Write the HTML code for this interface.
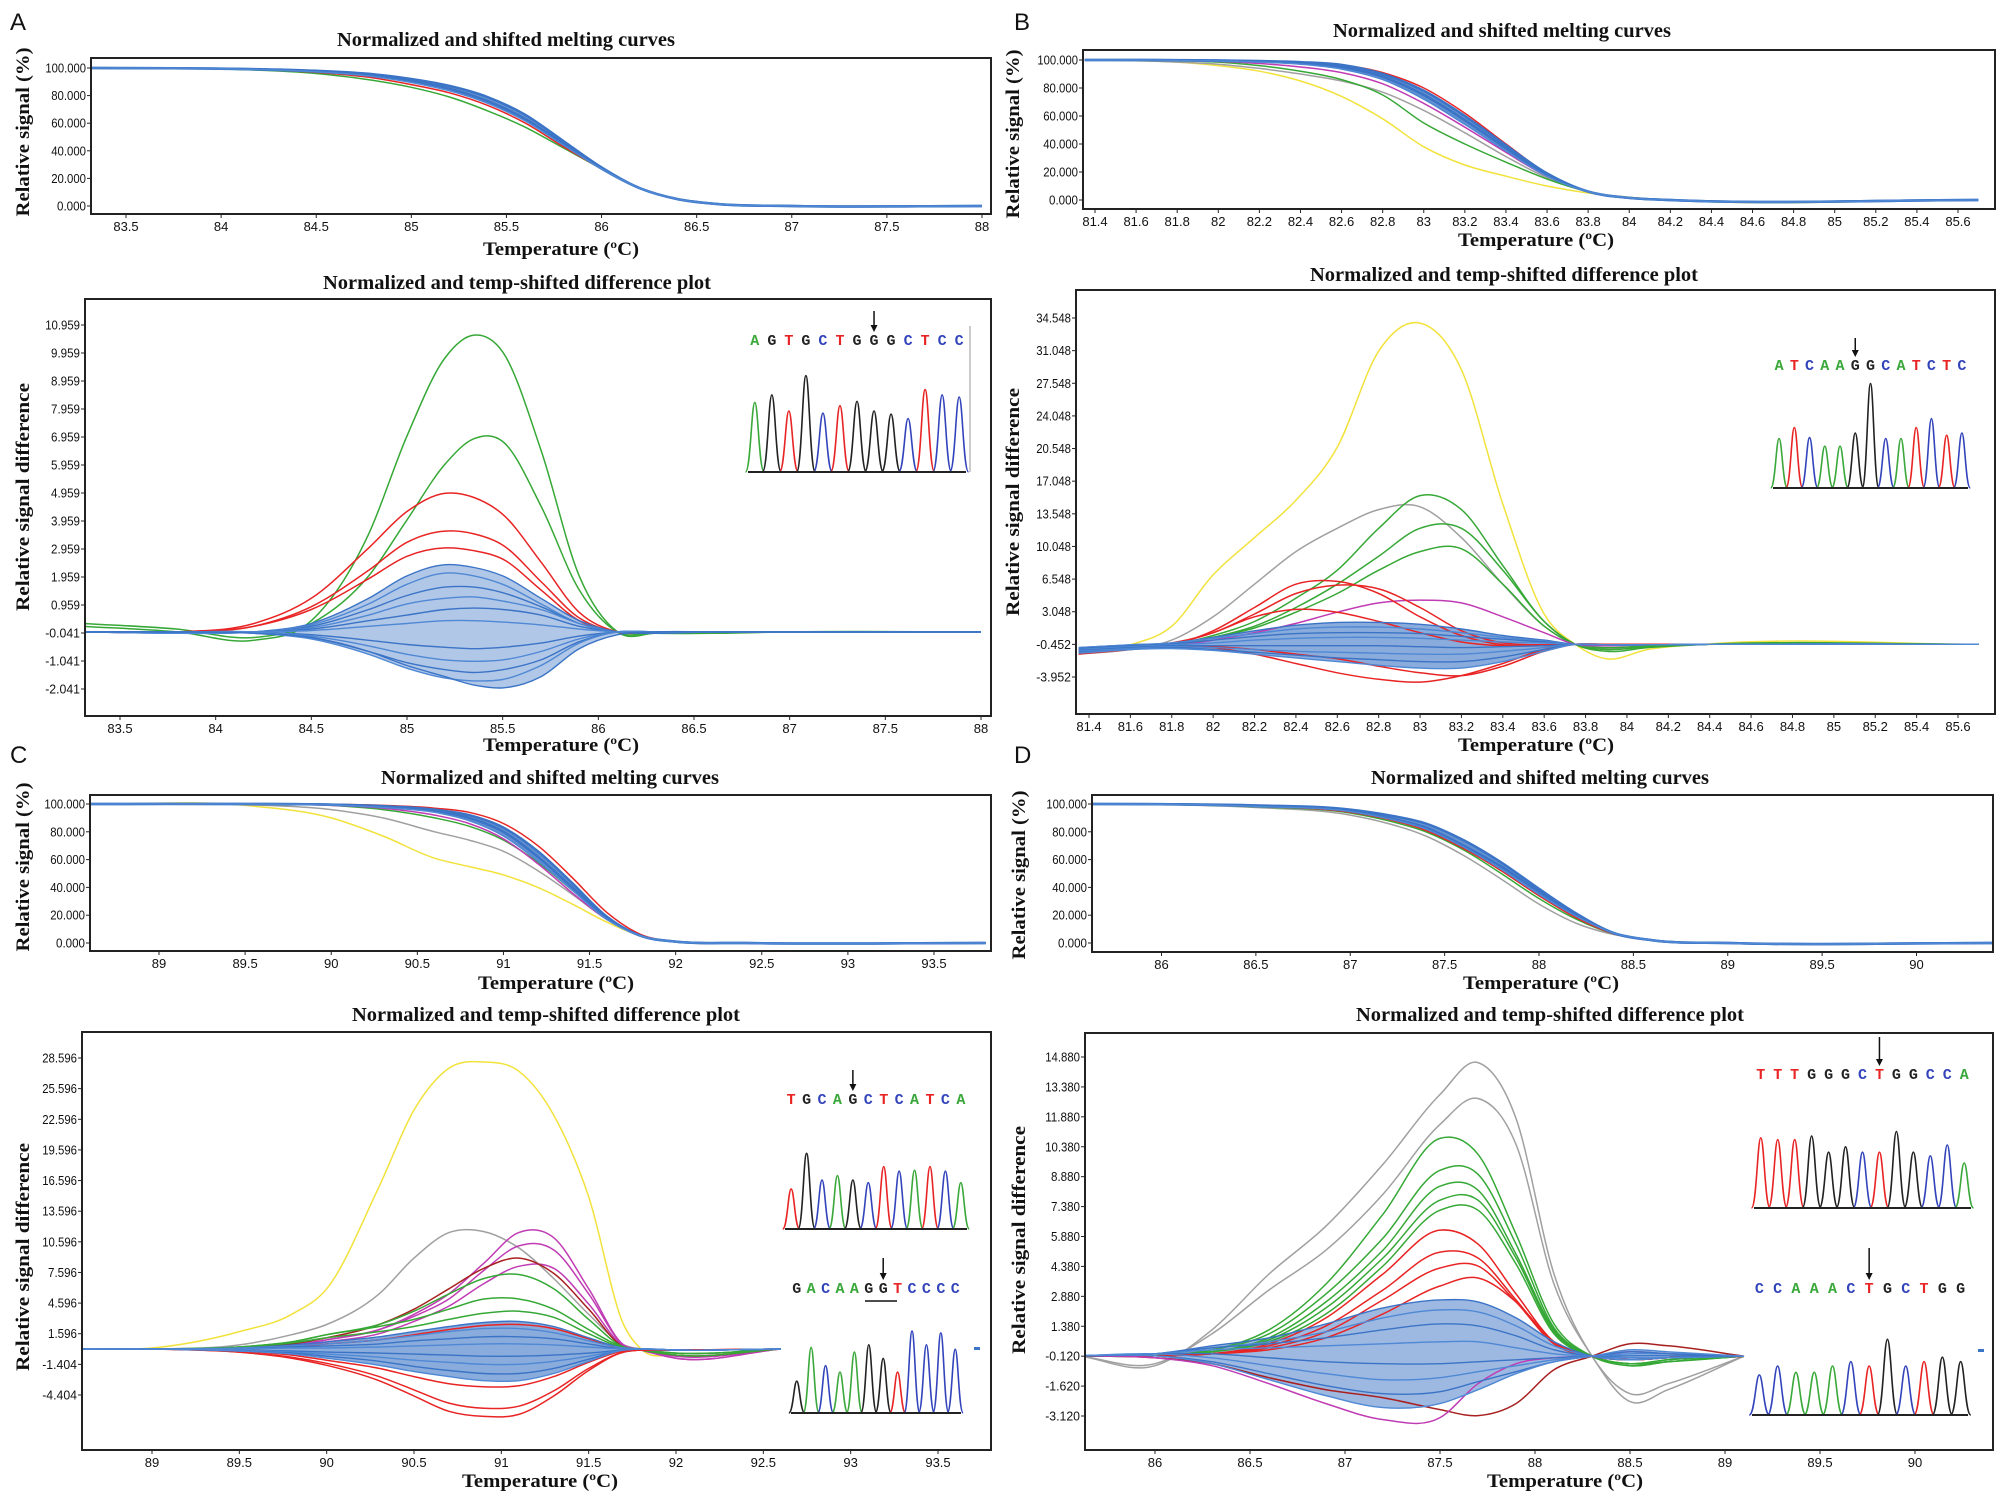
<!DOCTYPE html>
<html><head><meta charset="utf-8">
<style>
html,body{margin:0;padding:0;background:#fff;}
svg{display:block;}
.ttl{font-family:"Liberation Serif",serif;font-weight:bold;font-size:20px;fill:#111;}
.axl{font-family:"Liberation Serif",serif;font-weight:bold;font-size:19px;fill:#111;}
.tick{font-family:"Liberation Sans",sans-serif;font-size:13px;fill:#111;}
.plet{font-family:"Liberation Sans",sans-serif;font-size:24px;fill:#111;}
.base{font-family:"Liberation Mono",monospace;font-weight:bold;font-size:15px;}
</style></head>
<body>
<svg id="fig" width="2008" height="1501" viewBox="0 0 2008 1501" xmlns="http://www.w3.org/2000/svg">
<text class="plet" x="10" y="30">A</text>
<text class="plet" x="1014" y="30">B</text>
<text class="plet" x="10" y="763">C</text>
<text class="plet" x="1014" y="763">D</text>
</svg>
<script>
// ---------- DATA ----------
const aMeltTicksX=[83.5,84,84.5,85,85.5,86,86.5,87,87.5,88];
const aMeltTickLabels=["83.5","84","84.5","85","85.5","86","86.5","87","87.5","88"];
const meltTicksY=[0,20,40,60,80,100];
const meltTickLabelsY=["0.000","20.000","40.000","60.000","80.000","100.000"];
const aMeltTemps=[83.3,84,84.5,84.8,85,85.2,85.4,85.6,85.8,86,86.2,86.4,86.6,87,88];
const aMeltBlue1=[100,99.6,98,95.5,92,87,79,66,47,28,13,5,1.5,0,0];
const aMeltBlue2=[100,99.5,97.5,94.5,90.5,85,76,63,45,27,13,5,1.5,0,0];
const aMeltBlue3=[100,99.5,97.2,93.8,89.5,83.5,74.5,61.5,44,27,13,5,1.5,0,0];
const aMeltRed=[100,99.4,96.8,92.8,88,82,73,60,43,27,13,5,1.5,0,0];
const aMeltGreen=[100,99.3,96,91,86,79,69,57,42,27,13,5,1.5,0,0];

const aDiffTicksY=[10.959,9.959,8.959,7.959,6.959,5.959,4.959,3.959,2.959,1.959,0.959,-0.041,-1.041,-2.041];
const aDiffTickLabels=["10.959","9.959","8.959","7.959","6.959","5.959","4.959","3.959","2.959","1.959","0.959","-0.041","-1.041","-2.041"];
const aDiffTemps=[83.3,83.8,84.2,84.5,84.8,85.0,85.2,85.35,85.5,85.7,85.9,86.1,86.3,86.6,87,88];
const aDiffGreen1=[0.2,0,-0.3,0.4,3.5,7,9.8,10.6,10,6.5,2,0,-0.05,-0.05,0,0];
const aDiffGreen2=[0.3,0.1,-0.2,0.3,2,4,6,6.9,6.8,4.5,1.5,0,0,0,0,0];
const aDiffRed1=[0,0,0.3,1.2,3,4.3,4.95,4.8,4.2,2.5,0.7,0,0,0,0,0];
const aDiffRed2=[0,0,0.2,0.9,2.2,3.2,3.6,3.5,3.1,1.8,0.5,0,0,0,0,0];
const aDiffRed3=[0,0,0.2,0.8,1.9,2.7,3.0,2.9,2.6,1.5,0.4,0,0,0,0,0];
const aDiffBlue1=[0,-0.05,0,0.3,1.2,2,2.4,2.3,2,1.2,0.4,0,-0.05,0,0,0];
const aDiffBlue2=[0,-0.05,0,0.25,1,1.7,2.1,2.0,1.7,1.0,0.3,0,0,0,0,0];
const aDiffBlue3=[0,0,0,0.2,0.8,1.3,1.6,1.6,1.4,0.9,0.3,0,0,0,0,0];
const aDiffBlue4=[0,0,0,0.15,0.6,1.0,1.2,1.25,1.1,0.8,0.3,0,0,0,0,0];
const aDiffBlue5=[0,0,0,0.1,0.4,0.6,0.8,0.85,0.8,0.6,0.2,0,0,0,0,0];
const aDiffBlue6=[0,0,0,0.05,0.2,0.3,0.4,0.4,0.35,0.25,0.1,0,0,0,0,0];
const aDiffBlue7=[0,0,0,-0.1,-0.3,-0.45,-0.55,-0.6,-0.55,-0.4,-0.15,0,0,0,0,0];
const aDiffBlue8=[0,0,0,-0.15,-0.5,-0.8,-1,-1.05,-1,-0.7,-0.25,0,0,0,0,0];
const aDiffBlue9=[0,0,-0.05,-0.2,-0.7,-1.1,-1.35,-1.45,-1.35,-1,-0.35,0,0,0,0,0];
const aDiffBlue10=[0,0,-0.05,-0.25,-0.8,-1.3,-1.65,-1.75,-1.7,-1.2,-0.4,0,0,0,0,0];
const aDiffBlue11=[0,0,-0.05,-0.2,-0.7,-1.2,-1.6,-1.9,-2.0,-1.6,-0.6,-0.1,0,0,0,0];

const bTicksX=[81.4,81.6,81.8,82,82.2,82.4,82.6,82.8,83,83.2,83.4,83.6,83.8,84,84.2,84.4,84.6,84.8,85,85.2,85.4,85.6];
const bTickLabels=["81.4","81.6","81.8","82","82.2","82.4","82.6","82.8","83","83.2","83.4","83.6","83.8","84","84.2","84.4","84.6","84.8","85","85.2","85.4","85.6"];
const bMeltTemps=[81.35,81.6,81.8,82,82.2,82.4,82.6,82.8,83,83.2,83.4,83.6,83.8,84,84.2,85.7];
const bMeltBlue1=[100,100,99.9,99.7,99.3,98.5,96.5,90,78,60,39,19,6,1.5,0,0];
const bMeltBlue2=[100,100,99.8,99.5,99,98,95,88,75,57,37,18,6,1.5,0,0];
const bMeltBlue3=[100,100,99.7,99.3,98.5,97,93.5,86,72,54,35,17,6,1.5,0,0];
const bMeltRed=[100,100,99.9,99.6,99.2,98.3,96.5,91,80,62,40,19,6,1.5,0,0];
const bMeltMagenta=[100,100,99.6,99,97.5,95,91,83,69,52,34,17,6,1.5,0,0];
const bMeltGreen=[100,99.8,99.5,98.5,96,92,86,75,55,40,27,15,6,1.5,0,0];
const bMeltGrey=[100,99.5,98.5,97,94,90,85,77,64,48,31,16,6,1.5,0,0];
const bMeltYellow=[100,99.5,98.5,96,92,85,74,58,38,25,17,10,5,2,0,0];

const bDiffTicksY=[34.548,31.048,27.548,24.048,20.548,17.048,13.548,10.048,6.548,3.048,-0.452,-3.952];
const bDiffTickLabels=["34.548","31.048","27.548","24.048","20.548","17.048","13.548","10.048","6.548","3.048","-0.452","-3.952"];
const bDiffTemps=[81.35,81.6,81.8,82,82.2,82.4,82.6,82.8,83,83.2,83.4,83.6,83.75,83.9,84.1,84.4,85.7];
const bDiffYellow=[-1.5,-0.5,1.5,7,11,15,20.7,31,34,29,14.6,2.8,-0.45,-2,-1,-0.4,-0.45];
const bDiffGrey=[-1.5,-1,0,2.5,6,9.5,12,14,14.3,11,6,1.5,-0.45,-0.9,-0.6,-0.45,-0.45];
const bDiffGreen1=[-1,-0.8,-0.5,0.5,2,4.5,7.5,12,15.5,14,8,2,-0.45,-1.2,-0.8,-0.45,-0.45];
const bDiffGreen2=[-1,-0.8,-0.5,0.3,1.5,3.5,6,9,12,12,7.5,2,-0.45,-1,-0.7,-0.45,-0.45];
const bDiffGreen3=[-1,-0.8,-0.5,0.3,1.3,3,5,7.5,9.5,9.8,6,1.5,-0.45,-0.8,-0.6,-0.45,-0.45];
const bDiffMagenta=[-1,-0.8,-0.6,0,0.8,1.8,3,4,4.3,4,2.5,0.8,-0.45,-0.6,-0.5,-0.45,-0.45];
const bDiffRed1=[-1.5,-1,-0.5,1,3.5,6,6.3,5,2.5,0.5,-0.5,-0.6,-0.45,-0.45,-0.45,-0.45,-0.45];
const bDiffRed2=[-1.2,-0.8,-0.3,0.8,2.8,5,5.9,5.5,3.5,1,-0.3,-0.5,-0.45,-0.45,-0.45,-0.45,-0.45];
const bDiffRed3=[-1,-0.8,-0.4,0.8,2.5,3.3,3,2,0.8,-0.2,-0.6,-0.5,-0.45,-0.45,-0.45,-0.45,-0.45];
const bDiffRed4=[-1,-0.8,-0.6,-0.8,-1.5,-2.5,-3.5,-4.2,-4.5,-3.8,-2.5,-1,-0.45,-0.45,-0.45,-0.45,-0.45];
const bDiffRed5=[-1,-0.8,-0.6,-0.7,-1,-1.5,-2,-2.8,-3.5,-3.8,-2.8,-1.2,-0.45,-0.45,-0.45,-0.45,-0.45];
const bDiffBlue1=[-0.8,-0.5,-0.3,0.3,1,1.6,1.9,1.9,1.7,1.2,0.5,0,-0.45,-0.5,-0.5,-0.45,-0.45];
const bDiffBlue2=[-0.8,-0.5,-0.3,0.2,0.7,1.2,1.4,1.4,1.2,0.8,0.3,-0.1,-0.45,-0.5,-0.5,-0.45,-0.45];
const bDiffBlue3=[-0.9,-0.6,-0.4,0,0.4,0.7,0.8,0.8,0.7,0.4,0.1,-0.2,-0.45,-0.5,-0.5,-0.45,-0.45];
const bDiffBlue4=[-1,-0.7,-0.5,-0.3,0,0.2,0.3,0.3,0.2,0,-0.2,-0.3,-0.45,-0.5,-0.5,-0.45,-0.45];
const bDiffBlue5=[-1.1,-0.8,-0.6,-0.6,-0.6,-0.6,-0.6,-0.6,-0.7,-0.8,-0.7,-0.6,-0.45,-0.5,-0.5,-0.45,-0.45];
const bDiffBlue6=[-1.2,-0.9,-0.7,-0.8,-1,-1.2,-1.3,-1.4,-1.5,-1.5,-1.2,-0.8,-0.45,-0.5,-0.5,-0.45,-0.45];
const bDiffBlue7=[-1.3,-1,-0.8,-1,-1.3,-1.6,-1.9,-2.1,-2.3,-2.3,-1.8,-1,-0.45,-0.5,-0.5,-0.45,-0.45];
const bDiffBlue8=[-1.4,-1,-0.9,-1.1,-1.5,-1.9,-2.3,-2.7,-3,-3,-2.3,-1.2,-0.45,-0.5,-0.5,-0.45,-0.45];

const cMeltTicksX=[89,89.5,90,90.5,91,91.5,92,92.5,93,93.5];
const cMeltTickLabels=["89","89.5","90","90.5","91","91.5","92","92.5","93","93.5"];
const cMeltTemps=[88.6,89.5,90,90.3,90.6,90.8,91,91.2,91.4,91.6,91.8,92,92.4,93.8];
const cMeltBlue1=[100,100,99.6,98.5,96,92,83,66,43,19,5,1,0,0];
const cMeltBlue2=[100,100,99.5,98,95,90,80,62,40,18,5,1,0,0];
const cMeltBlue3=[100,100,99.3,97.5,94,88,77,59,38,17,5,1,0,0];
const cMeltRed=[100,100,99.8,99,97,94,86,70,47,22,6,1,0,0];
const cMeltGreen=[100,100,99,96,90,84,74,58,38,18,5,1,0,0];
const cMeltMagenta=[100,100,99,97,92,86,75,57,36,17,5,1,0,0];
const cMeltGrey=[100,99.5,96,90,80,74,66,52,35,17,5,1,0,0];
const cMeltYellow=[100,99,90,77,61,55,49,40,28,15,5,1,0,0];

const cDiffTicksY=[28.596,25.596,22.596,19.596,16.596,13.596,10.596,7.596,4.596,1.596,-1.404,-4.404];
const cDiffTickLabels=["28.596","25.596","22.596","19.596","16.596","13.596","10.596","7.596","4.596","1.596","-1.404","-4.404"];
const cDiffTemps=[88.6,89,89.5,89.8,90,90.3,90.5,90.7,90.9,91.1,91.3,91.5,91.7,91.8,92,92.6];
const cDiffYellow=[0.1,0.2,1.8,3.5,6,16,23.5,27.6,28.2,27.3,23,15,2.5,0.1,-0.5,0.1];
const cDiffGrey=[0.1,0.1,0.5,1.5,2.5,5.5,9,11.5,11.6,10,7,3.5,0.5,0.1,-0.3,0.1];
const cDiffMagenta1=[0.1,0.1,0.2,0.5,1,2,3.5,5.5,8.5,11.5,11,6,0.5,0,-0.8,0.1];
const cDiffMagenta2=[0.1,0.1,0.2,0.5,1,2,3.3,5,7.8,10.2,9.8,5.5,0.5,0,-0.8,0.1];
const cDiffMagenta3=[0.1,0.1,0.2,0.4,0.8,1.6,2.8,4.3,6.5,8.2,8,4.5,0.4,0,-0.6,0.1];
const cDiffDarkRed=[0.1,0.1,0.2,0.6,1.2,2.5,4,6,8,9,7.5,4,0.3,0,-0.5,0.1];
const cDiffGreen1=[0.1,0.1,0.3,0.8,1.5,2.5,3.8,5.5,7,7.4,6,3,0.3,0,-0.5,0.1];
const cDiffGreen2=[0.1,0.1,0.3,0.8,1.5,2.3,3,4,5,5,4,2,0.3,0,-0.3,0.1];
const cDiffGreen3=[0.1,0.1,0.3,0.7,1.2,1.8,2.3,3,3.6,3.8,3.2,1.6,0.2,0,-0.3,0.1];
const cDiffRed1=[0.1,0.1,-0.2,-0.8,-1.5,-3,-4.5,-6,-6.5,-6.3,-4.5,-2,-0.2,0,0,0.1];
const cDiffRed2=[0.1,0.1,-0.2,-0.7,-1.3,-2.6,-3.9,-5.2,-5.7,-5.5,-4,-1.8,-0.2,0,0,0.1];
const cDiffRed3=[0.1,0.1,-0.1,-0.5,-1,-1.8,-2.6,-3.3,-3.6,-3.5,-2.6,-1.2,-0.1,0,0,0.1];
const cDiffRed4=[0.1,0.1,0.1,0.3,0.6,1,1.5,2,2.4,2.5,2.1,1.1,0.1,0,0,0.1];
const cDiffBlue1=[0.1,0.1,0.2,0.5,0.8,1.3,1.8,2.3,2.7,2.8,2.3,1.2,0.2,0.1,0,0.1];
const cDiffBlue2=[0.1,0.1,0.2,0.4,0.6,1,1.4,1.8,2.1,2.1,1.7,0.9,0.2,0.1,0,0.1];
const cDiffBlue3=[0.1,0.1,0.1,0.3,0.4,0.6,0.9,1.1,1.3,1.3,1.1,0.6,0.1,0.1,0,0.1];
const cDiffBlue4=[0.1,0.1,0.1,0.2,0.2,0.3,0.4,0.5,0.6,0.6,0.5,0.3,0.1,0.1,0,0.1];
const cDiffBlue5=[0.1,0.1,0,-0.1,-0.2,-0.3,-0.4,-0.5,-0.6,-0.6,-0.5,-0.3,0,0.1,0,0.1];
const cDiffBlue6=[0.1,0.1,0,-0.2,-0.4,-0.7,-1,-1.2,-1.4,-1.4,-1.1,-0.6,0,0.1,0,0.1];
const cDiffBlue7=[0.1,0.1,-0.1,-0.3,-0.6,-1.1,-1.6,-2,-2.3,-2.3,-1.8,-0.9,0,0.1,0,0.1];
const cDiffBlue8=[0.1,0.1,-0.1,-0.4,-0.8,-1.5,-2.1,-2.6,-3,-3,-2.3,-1.1,0,0.1,0,0.1];

const dMeltTicksX=[86,86.5,87,87.5,88,88.5,89,89.5,90];
const dMeltTickLabels=["86","86.5","87","87.5","88","88.5","89","89.5","90"];
const dMeltTemps=[85.6,86,86.5,87,87.2,87.4,87.6,87.8,88,88.2,88.4,88.6,89,90.4];
const dMeltBlue1=[100,99.9,99,96,92,86,74,58,39,21,7,2,0,0];
const dMeltBlue2=[100,99.8,98.5,95,90,83,70,55,37,20,7,2,0,0];
const dMeltBlue3=[100,99.8,98.3,94.5,89.5,82,69,53,35,19,7,2,0,0];
const dMeltRed=[100,99.7,98.3,94,89,81,68,52,34,18,6.5,2,0,0];
const dMeltGreen=[100,99.7,98,93.5,88,80,67,50,32,17,6.5,2,0,0];
const dMeltGrey=[100,99.5,97.5,92,86,77,63,46,28,14,6,2,0,0];

const dDiffTicksY=[14.880,13.380,11.880,10.380,8.880,7.380,5.880,4.380,2.880,1.380,-0.120,-1.620,-3.120];
const dDiffTickLabels=["14.880","13.380","11.880","10.380","8.880","7.380","5.880","4.380","2.880","1.380","-0.120","-1.620","-3.120"];
const dDiffTemps=[85.6,86,86.3,86.6,86.9,87.2,87.5,87.7,87.9,88.1,88.3,88.5,88.7,89.1];
const dDiffGrey1=[-0.1,-0.6,1.2,4,6.4,9.5,13,14.6,11.8,4,-0.12,-2,-1.5,-0.12];
const dDiffGrey2=[-0.1,-0.5,1,3.2,5.2,8,11.5,12.8,10.5,3.5,-0.12,-2.4,-1.8,-0.12];
const dDiffGreen1=[-0.1,-0.1,0.2,1.2,3.5,7,10.8,10,6,1.5,-0.12,-0.6,-0.4,-0.12];
const dDiffGreen2=[-0.1,-0.1,0.2,1,3,5.8,9.2,9,5.5,1.3,-0.12,-0.6,-0.4,-0.12];
const dDiffGreen3=[-0.1,-0.1,0.1,0.8,2.6,5.2,8.4,8.2,5,1.2,-0.12,-0.5,-0.4,-0.12];
const dDiffGreen4=[-0.1,-0.1,0.1,0.7,2.3,4.8,7.7,7.7,4.8,1.1,-0.12,-0.5,-0.3,-0.12];
const dDiffGreen5=[-0.1,-0.1,0.1,0.6,2,4.4,7.2,7.2,4.5,1,-0.12,-0.5,-0.3,-0.12];
const dDiffRed1=[-0.1,-0.1,0,0.5,1.8,4,6.2,5.5,3,0.6,-0.12,-0.3,-0.2,-0.12];
const dDiffRed2=[-0.1,-0.1,0,0.4,1.4,3.2,5.1,4.8,2.7,0.5,-0.12,-0.3,-0.2,-0.12];
const dDiffRed3=[-0.1,-0.1,0,0.3,1.1,2.7,4.3,4.4,2.6,0.5,-0.12,-0.3,-0.2,-0.12];
const dDiffRed4=[-0.1,-0.1,0,0.2,0.8,2,3.4,3.8,2.6,0.6,-0.12,-0.3,-0.2,-0.12];
const dDiffDarkRed=[-0.1,-0.2,-0.5,-1.2,-1.8,-2.2,-2.8,-3.1,-2.5,-0.8,-0.12,0.5,0.4,-0.12];
const dDiffMagenta=[-0.1,-0.2,-0.6,-1.5,-2.5,-3.3,-3.2,-1.5,-0.5,-0.2,-0.12,0.1,0,-0.12];
const dDiffBlue1=[-0.1,0,0.4,0.8,1.5,2.3,2.7,2.6,1.8,0.6,-0.12,-0.3,-0.2,-0.12];
const dDiffBlue2=[-0.1,0,0.3,0.6,1.1,1.8,2.2,2.1,1.4,0.4,-0.12,-0.3,-0.2,-0.12];
const dDiffBlue3=[-0.1,0,0.3,0.5,0.8,1.2,1.5,1.4,0.9,0.2,-0.12,-0.2,-0.2,-0.12];
const dDiffBlue4=[-0.1,0,0.2,0.3,0.4,0.5,0.6,0.6,0.3,0,-0.12,-0.2,-0.2,-0.12];
const dDiffBlue5=[-0.1,0,0,-0.2,-0.4,-0.5,-0.5,-0.4,-0.3,-0.2,-0.12,-0.1,-0.1,-0.12];
const dDiffBlue6=[-0.1,0,-0.2,-0.6,-1,-1.3,-1.2,-0.9,-0.6,-0.3,-0.12,0,0,-0.12];
const dDiffBlue7=[-0.1,-0.1,-0.4,-1,-1.6,-2,-1.9,-1.4,-0.9,-0.4,-0.12,0.1,0,-0.12];
const dDiffBlue8=[-0.1,-0.1,-0.5,-1.3,-2.1,-2.7,-2.5,-1.8,-1,-0.4,-0.12,0.2,0.1,-0.12];

// inset chromatogram data
const insetABases="AGTGCTGGGCTCC";
const insetAHeights=[0.65,0.72,0.57,0.9,0.55,0.62,0.66,0.57,0.54,0.5,0.77,0.72,0.7];
const insetBBases="ATCAAGGCATCTC";
const insetBHeights=[0.45,0.55,0.46,0.38,0.38,0.5,0.95,0.45,0.45,0.55,0.63,0.48,0.5];
const insetC1Bases="TGCAGCTCATCA";
const insetC1Heights=[0.45,0.85,0.55,0.6,0.55,0.52,0.7,0.65,0.66,0.7,0.65,0.52];
const insetC2Bases="GACAAGGTCCCC";
const insetC2Heights=[0.35,0.72,0.52,0.45,0.67,0.75,0.6,0.45,0.9,0.75,0.88,0.7];
const insetD1Bases="TTTGGGCTGGCCA";
const insetD1Heights=[0.78,0.76,0.76,0.8,0.62,0.68,0.62,0.62,0.85,0.62,0.58,0.7,0.5];
const insetD2Bases="CCAAACTGCTGG";
const insetD2Heights=[0.45,0.55,0.48,0.48,0.55,0.6,0.55,0.85,0.55,0.6,0.65,0.6];

// ---------- RENDER ----------
const NS="http://www.w3.org/2000/svg";
const fig=document.getElementById('fig');
const COL={blue:"#3b74c6",blue2:"#4f88d4",green:"#36a836",red:"#e82424",grey:"#a0a0a0",yellow:"#f2e23c",magenta:"#c03cb4",darkred:"#a82020"};
const BASECOL={A:"#3aa83a",C:"#3344bb",G:"#222222",T:"#e82424"};
let clipId=0;
function mk(tag,attrs,parent){const e=document.createElementNS(NS,tag);for(const k in attrs)e.setAttribute(k,attrs[k]);(parent||fig).appendChild(e);return e;}
function linScale(d0,r0,d1,r1){return v=>r0+(v-d0)*(r1-r0)/(d1-d0);}
// cubic Hermite in x with non-uniform spacing
function smoothPath(pts){
  const n=pts.length,m=[];
  for(let i=0;i<n;i++){
    if(i===0)m.push((pts[1][1]-pts[0][1])/(pts[1][0]-pts[0][0]));
    else if(i===n-1)m.push((pts[n-1][1]-pts[n-2][1])/(pts[n-1][0]-pts[n-2][0]));
    else{
      const s0=(pts[i][1]-pts[i-1][1])/(pts[i][0]-pts[i-1][0]);
      const s1=(pts[i+1][1]-pts[i][1])/(pts[i+1][0]-pts[i][0]);
      const h0=pts[i][0]-pts[i-1][0],h1=pts[i+1][0]-pts[i][0];
      m.push((s0*h1+s1*h0)/(h0+h1));
    }
  }
  let d="M"+pts[0][0].toFixed(1)+","+pts[0][1].toFixed(1);
  for(let i=0;i<n-1;i++){
    const h=(pts[i+1][0]-pts[i][0])/3;
    d+=" C"+(pts[i][0]+h).toFixed(1)+","+(pts[i][1]+m[i]*h).toFixed(1)+" "+(pts[i+1][0]-h).toFixed(1)+","+(pts[i+1][1]-m[i+1]*h).toFixed(1)+" "+pts[i+1][0].toFixed(1)+","+pts[i+1][1].toFixed(1);
  }
  return d;
}
function txt(cls,x,y,s,anchor,len,parent){
  const t=mk('text',{class:cls,x:x,y:y,'text-anchor':anchor||'start'},parent);
  if(len){t.setAttribute('textLength',len);t.setAttribute('lengthAdjust','spacingAndGlyphs');}
  t.textContent=s;return t;
}
function drawPlot(p){
  const g=mk('g',{});
  
  
  const sx=linScale(p.xd[0],p.xr[0],p.xd[1],p.xr[1]);
  const sy=linScale(p.yd[0],p.yr[0],p.yd[1],p.yr[1]);
  const b=p.box;
  const cid='clip'+(clipId++);
  const cp=mk('clipPath',{id:cid},g);mk('rect',{x:b.x,y:b.y,width:b.w,height:b.h},cp);
  const t=txt('ttl',p.title[0],p.title[1],p.title[2],'middle',p.title[3],g);
  
  
  const curves=mk('g',{'clip-path':'url(#'+cid+')'},g);
  if(p.band){
    const up=[],lo=[];
    for(let i=0;i<p.temps.length;i++){
      let mx=-1e9,mn=1e9;p.band.forEach(a=>{mx=Math.max(mx,a[i]);mn=Math.min(mn,a[i]);});
      up.push([sx(p.temps[i]),sy(mx)]);lo.push([sx(p.temps[i]),sy(mn)]);
    }
    const lop=smoothPath(lo.slice().reverse().map(q=>[-q[0],q[1]])).replace(/-(\d)/g,'$1');
    // build lower path reversed manually
    const lower=smoothPath(lo);
    const band=mk('path',{d:smoothPath(up)+" L"+lo[lo.length-1][0].toFixed(1)+","+lo[lo.length-1][1].toFixed(1)+" "+reversePath(lo)+" Z",fill:COL.blue,'fill-opacity':p.bandOp||0.35,stroke:'none'},curves);
    
    
  }
  p.series.forEach(s=>{
    const pts=s.v.map((v,i)=>[sx(p.temps[i]),sy(v)]);
    const path=mk('path',{d:smoothPath(pts),fill:'none',stroke:COL[s.c],'stroke-width':s.w||1.5},curves);
    
    
  });
  mk('rect',{x:b.x,y:b.y,width:b.w,height:b.h,fill:'none',stroke:'#222','stroke-width':2},g);
  p.xticks.forEach((v,i)=>{
    const x=sx(v);
    mk('line',{x1:x,y1:b.y+b.h,x2:x,y2:b.y+b.h+4,stroke:'#222','stroke-width':1},g);
    const tl=txt('tick',x,b.y+b.h+17,p.xlabels[i],'middle',null,g);
    
    
  });
  p.yticks.forEach((v,i)=>{
    const y=sy(v);
    mk('line',{x1:b.x-4,y1:y,x2:b.x,y2:y,stroke:'#222','stroke-width':1},g);
    const tl=txt('tick',b.x-5,y+4.5,p.ylabels[i],'end',p.ylabels[i].length*5.8,g);
    
    
  });
  const xl=txt('axl',p.xlab[0],p.xlab[1],'Temperature (ºC)','middle',156,g);
  
  
  const yl=txt('axl',0,0,p.ylab[2],'middle',p.ylab[3],g);
  yl.setAttribute('transform','translate('+(p.ylab[0]+7)+','+p.ylab[1]+') rotate(-90)');
  
  
}
// path segments going backwards along pts (without initial M)
function reversePath(pts){
  const rev=pts.slice().reverse();
  return smoothPathRev(rev);
}
function smoothPathRev(pts){
  // reuse hermite with x decreasing
  const n=pts.length,m=[];
  for(let i=0;i<n;i++){
    if(i===0)m.push((pts[1][1]-pts[0][1])/(pts[1][0]-pts[0][0]));
    else if(i===n-1)m.push((pts[n-1][1]-pts[n-2][1])/(pts[n-1][0]-pts[n-2][0]));
    else{
      const s0=(pts[i][1]-pts[i-1][1])/(pts[i][0]-pts[i-1][0]);
      const s1=(pts[i+1][1]-pts[i][1])/(pts[i+1][0]-pts[i][0]);
      const h0=pts[i][0]-pts[i-1][0],h1=pts[i+1][0]-pts[i][0];
      m.push((s0*h1+s1*h0)/(h0+h1));
    }
  }
  let d="";
  for(let i=0;i<n-1;i++){
    const h=(pts[i+1][0]-pts[i][0])/3;
    d+=" C"+(pts[i][0]+h).toFixed(1)+","+(pts[i][1]+m[i]*h).toFixed(1)+" "+(pts[i+1][0]-h).toFixed(1)+","+(pts[i+1][1]-m[i+1]*h).toFixed(1)+" "+pts[i+1][0].toFixed(1)+","+pts[i+1][1].toFixed(1);
  }
  return d;
}
function drawInset(name,bases,heights,x0,x1,letterY,base,top,arrowIdx,arrowY){
  const g=mk('g',{});
  
  
  const n=bases.length,step=(x1-x0)/(n-0.2);
  for(let i=0;i<n;i++){
    const cx=x0+step*(i+0.4);
    const t=txt('base',cx,letterY,bases[i],'middle',null,g);
    t.setAttribute('fill',BASECOL[bases[i]]);
    const h=heights[i]*(base-top),w=step*0.55;
    const pk=mk('path',{d:"M"+(cx-w)+","+base+" C"+(cx-w*0.45)+","+base+" "+(cx-w*0.35)+","+(base-h)+" "+cx+","+(base-h)+" C"+(cx+w*0.35)+","+(base-h)+" "+(cx+w*0.45)+","+base+" "+(cx+w)+","+base,fill:'none',stroke:BASECOL[bases[i]],'stroke-width':1.6},g);
    
    
  }
  mk('line',{x1:x0,y1:base,x2:x1,y2:base,stroke:'#222','stroke-width':2},g);
  const ax=x0+step*(arrowIdx+0.4);
  mk('line',{x1:ax,y1:arrowY,x2:ax,y2:letterY-16,stroke:'#111','stroke-width':1.5},g);
  mk('path',{d:"M"+(ax-3.5)+","+(letterY-20)+" L"+(ax+3.5)+","+(letterY-20)+" L"+ax+","+(letterY-13)+" Z",fill:'#111'},g);
  return {g:g,step:step};
}

const aDiffBlues=[aDiffBlue1,aDiffBlue2,aDiffBlue3,aDiffBlue4,aDiffBlue5,aDiffBlue6,aDiffBlue7,aDiffBlue8,aDiffBlue9,aDiffBlue10,aDiffBlue11];
const bDiffBlues=[bDiffBlue1,bDiffBlue2,bDiffBlue3,bDiffBlue4,bDiffBlue5,bDiffBlue6,bDiffBlue7,bDiffBlue8];
const cDiffBlues=[cDiffBlue1,cDiffBlue2,cDiffBlue3,cDiffBlue4,cDiffBlue5,cDiffBlue6,cDiffBlue7,cDiffBlue8];
const dDiffBlues=[dDiffBlue1,dDiffBlue2,dDiffBlue3,dDiffBlue4,dDiffBlue5,dDiffBlue6,dDiffBlue7,dDiffBlue8];
const blueSeries=arr=>arr.map((v,i)=>({c:i%2?'blue2':'blue',v:v,w:1.4}));

// Panel A
drawPlot({name:'panel-a-melting-curves',box:{x:91,y:58,w:900,h:156},xd:[83.5,88],xr:[126,982],yd:[100,0],yr:[68,206],
  title:[506,46,'Normalized and shifted melting curves',338],xlab:[561,255],ylab:[22,132,'Relative signal (%)',169],
  xticks:aMeltTicksX,xlabels:aMeltTickLabels,yticks:meltTicksY,ylabels:meltTickLabelsY,temps:aMeltTemps,
  band:[aMeltBlue1,aMeltBlue3],bandOp:0.8,
  series:[{c:'green',v:aMeltGreen},{c:'red',v:aMeltRed},{c:'blue',v:aMeltBlue1,w:2.5},{c:'blue',v:aMeltBlue2,w:2.5},{c:'blue2',v:aMeltBlue3,w:1.5}]});
drawPlot({name:'panel-a-difference-plot',box:{x:85,y:299,w:906,h:417},xd:[83.5,88],xr:[120,981],yd:[10.959,-2.041],yr:[325,689],
  title:[517,289,'Normalized and temp-shifted difference plot',388],xlab:[561,751],ylab:[22,497,'Relative signal difference',228],
  xticks:aMeltTicksX,xlabels:aMeltTickLabels,yticks:aDiffTicksY,ylabels:aDiffTickLabels,temps:aDiffTemps,band:aDiffBlues,bandOp:0.4,
  series:[{c:'green',v:aDiffGreen1},{c:'green',v:aDiffGreen2},{c:'red',v:aDiffRed1},{c:'red',v:aDiffRed2},{c:'red',v:aDiffRed3}].concat(blueSeries(aDiffBlues))});
drawInset('panel-a-sequence-inset',insetABases,insetAHeights,748,966,345,472,365,7,311);
mk('line',{x1:970,y1:326,x2:970,y2:472,stroke:'#bbb','stroke-width':1.5});

// Panel B
drawPlot({name:'panel-b-melting-curves',box:{x:1083,y:50,w:912,h:159},xd:[81.4,85.6],xr:[1095,1958],yd:[100,0],yr:[60,200],
  title:[1502,37,'Normalized and shifted melting curves',338],xlab:[1536,246],ylab:[1012,134,'Relative signal (%)',169],
  xticks:bTicksX,xlabels:bTickLabels,yticks:meltTicksY,ylabels:meltTickLabelsY,temps:bMeltTemps,band:[bMeltBlue1,bMeltBlue3],bandOp:0.8,
  series:[{c:'yellow',v:bMeltYellow},{c:'grey',v:bMeltGrey},{c:'green',v:bMeltGreen},{c:'magenta',v:bMeltMagenta},{c:'red',v:bMeltRed},{c:'blue',v:bMeltBlue1,w:2.5},{c:'blue',v:bMeltBlue2,w:2.5},{c:'blue2',v:bMeltBlue3}]});
drawPlot({name:'panel-b-difference-plot',box:{x:1076,y:290,w:919,h:424},xd:[81.4,85.6],xr:[1089,1958],yd:[34.548,-3.952],yr:[318,677],
  title:[1504,281,'Normalized and temp-shifted difference plot',388],xlab:[1536,751],ylab:[1012,502,'Relative signal difference',228],
  xticks:bTicksX,xlabels:bTickLabels,yticks:bDiffTicksY,ylabels:bDiffTickLabels,temps:bDiffTemps,band:bDiffBlues,bandOp:0.6,
  series:[{c:'yellow',v:bDiffYellow},{c:'grey',v:bDiffGrey},{c:'green',v:bDiffGreen1},{c:'green',v:bDiffGreen2},{c:'green',v:bDiffGreen3},{c:'magenta',v:bDiffMagenta},{c:'red',v:bDiffRed1},{c:'red',v:bDiffRed2},{c:'red',v:bDiffRed3},{c:'red',v:bDiffRed4},{c:'red',v:bDiffRed5}].concat(blueSeries(bDiffBlues))});
drawInset('panel-b-sequence-inset',insetBBases,insetBHeights,1773,1968,370,488,378,5,338);

// Panel C
drawPlot({name:'panel-c-melting-curves',box:{x:90,y:795,w:901,h:156},xd:[89,93.5],xr:[159,934],yd:[100,0],yr:[804,943],
  title:[550,784,'Normalized and shifted melting curves',338],xlab:[556,989],ylab:[22,867,'Relative signal (%)',169],
  xticks:cMeltTicksX,xlabels:cMeltTickLabels,yticks:meltTicksY,ylabels:meltTickLabelsY,temps:cMeltTemps,band:[cMeltBlue1,cMeltBlue3],bandOp:0.8,
  series:[{c:'yellow',v:cMeltYellow},{c:'grey',v:cMeltGrey},{c:'green',v:cMeltGreen},{c:'magenta',v:cMeltMagenta},{c:'red',v:cMeltRed},{c:'blue',v:cMeltBlue1,w:2.5},{c:'blue',v:cMeltBlue2,w:2.5},{c:'blue2',v:cMeltBlue3}]});
drawPlot({name:'panel-c-difference-plot',box:{x:82,y:1032,w:909,h:418},xd:[89,93.5],xr:[152,938],yd:[28.596,-4.404],yr:[1058,1395],
  title:[546,1021,'Normalized and temp-shifted difference plot',388],xlab:[540,1487],ylab:[22,1257,'Relative signal difference',228],
  xticks:cMeltTicksX,xlabels:cMeltTickLabels,yticks:cDiffTicksY,ylabels:cDiffTickLabels,temps:cDiffTemps,band:cDiffBlues,bandOp:0.6,
  series:[{c:'yellow',v:cDiffYellow},{c:'grey',v:cDiffGrey},{c:'magenta',v:cDiffMagenta1},{c:'magenta',v:cDiffMagenta2},{c:'magenta',v:cDiffMagenta3},{c:'darkred',v:cDiffDarkRed},{c:'green',v:cDiffGreen1},{c:'green',v:cDiffGreen2},{c:'green',v:cDiffGreen3},{c:'red',v:cDiffRed1},{c:'red',v:cDiffRed2},{c:'red',v:cDiffRed3},{c:'red',v:cDiffRed4}].concat(blueSeries(cDiffBlues))});
drawInset('panel-c-sequence-inset-1',insetC1Bases,insetC1Heights,785,967,1104,1229,1140,4,1070);
drawInset('panel-c-sequence-inset-2',insetC2Bases,insetC2Heights,791,961,1293,1413,1322,6,1258);
mk('line',{x1:865,y1:1301,x2:897,y2:1301,stroke:'#111','stroke-width':1.5});
mk('rect',{x:974,y:1347,width:6,height:3,fill:COL.blue});

// Panel D
drawPlot({name:'panel-d-melting-curves',box:{x:1092,y:795,w:901,h:157},xd:[86,90],xr:[1161.5,1916.5],yd:[100,0],yr:[804,943],
  title:[1540,784,'Normalized and shifted melting curves',338],xlab:[1541,989],ylab:[1018,875,'Relative signal (%)',169],
  xticks:dMeltTicksX,xlabels:dMeltTickLabels,yticks:meltTicksY,ylabels:meltTickLabelsY,temps:dMeltTemps,band:[dMeltBlue1,dMeltBlue3],bandOp:0.8,
  series:[{c:'grey',v:dMeltGrey},{c:'green',v:dMeltGreen},{c:'red',v:dMeltRed},{c:'blue',v:dMeltBlue1,w:2.5},{c:'blue',v:dMeltBlue2,w:2.5},{c:'blue2',v:dMeltBlue3}]});
drawPlot({name:'panel-d-difference-plot',box:{x:1085,y:1033,w:908,h:417},xd:[86,90],xr:[1155,1915],yd:[14.88,-3.12],yr:[1057,1416],
  title:[1550,1021,'Normalized and temp-shifted difference plot',388],xlab:[1565,1487],ylab:[1018,1240,'Relative signal difference',228],
  xticks:dMeltTicksX,xlabels:dMeltTickLabels,yticks:dDiffTicksY,ylabels:dDiffTickLabels,temps:dDiffTemps,band:dDiffBlues,bandOp:0.5,
  series:[{c:'grey',v:dDiffGrey1},{c:'grey',v:dDiffGrey2},{c:'green',v:dDiffGreen1},{c:'green',v:dDiffGreen2},{c:'green',v:dDiffGreen3},{c:'green',v:dDiffGreen4},{c:'green',v:dDiffGreen5},{c:'red',v:dDiffRed1},{c:'red',v:dDiffRed2},{c:'red',v:dDiffRed3},{c:'red',v:dDiffRed4},{c:'darkred',v:dDiffDarkRed},{c:'magenta',v:dDiffMagenta}].concat(blueSeries(dDiffBlues))});
drawInset('panel-d-sequence-inset-1',insetD1Bases,insetD1Heights,1754,1971,1079,1208,1118,7,1037);
drawInset('panel-d-sequence-inset-2',insetD2Bases,insetD2Heights,1752,1968,1293,1415,1326,6,1248);
mk('rect',{x:1978,y:1349,width:6,height:3,fill:COL.blue});
</script>
</body></html>
